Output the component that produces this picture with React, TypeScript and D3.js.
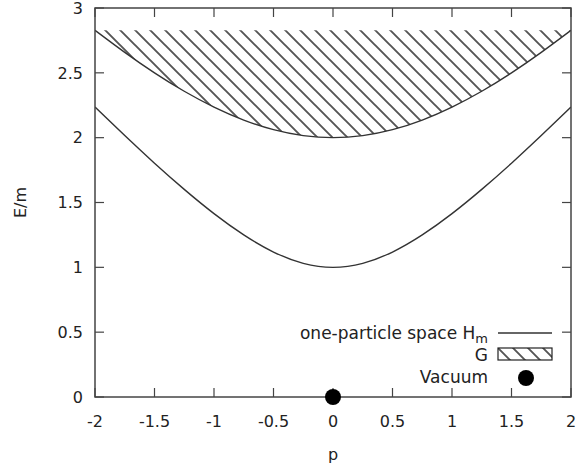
import { useEffect, useRef } from 'react';
import * as d3 from 'd3';

// values
const momentum = [-2, -1.75, -1.5, -1.25, -1, -0.75, -0.5, -0.25, 0, 0.25, 0.5, 0.75, 1, 1.25, 1.5, 1.75, 2];
const oneParticleEnergy = [2.236, 2.016, 1.803, 1.601, 1.414, 1.25, 1.118, 1.031, 1.0, 1.031, 1.118, 1.25, 1.414, 1.601, 1.803, 2.016, 2.236];
const continuumBottom = [2.828, 2.658, 2.5, 2.358, 2.236, 2.136, 2.062, 2.016, 2.0, 2.016, 2.062, 2.136, 2.236, 2.358, 2.5, 2.658, 2.828];
const continuumTop = [2.828, 2.828, 2.828, 2.828, 2.828, 2.828, 2.828, 2.828, 2.828, 2.828, 2.828, 2.828, 2.828, 2.828, 2.828, 2.828, 2.828];
const vacuumP = [0];
const vacuumE = [0];
const xTicks = [-2, -1.5, -1, -0.5, 0, 0.5, 1, 1.5, 2];
const yTicks = [0, 0.5, 1, 1.5, 2, 2.5, 3];

export default function App() {
  const svgRef = useRef<SVGSVGElement>(null);

  useEffect(() => {
    if (!svgRef.current) return;
    const width = 576;
    const height = 470;
    const left = 95, right = 571, top = 8, bottom = 397;
    const font = "'DejaVu Sans', sans-serif";
    const textColor = '#222';

    const svg = d3.select(svgRef.current);
    svg.selectAll('*').remove();
    svg.attr('width', width).attr('height', height);

    const x = d3.scaleLinear().domain([-2, 2]).range([left, right]);
    const y = d3.scaleLinear().domain([0, 3]).range([bottom, top]);

    const defs = svg.append('defs');
    const pat = defs.append('pattern')
      .attr('id', 'hatch')
      .attr('patternUnits', 'userSpaceOnUse')
      .attr('width', 15)
      .attr('height', 15);
    pat.append('path')
      .attr('d', 'M0,0 L15,15 M-2,13 L2,17 M13,-2 L17,2')
      .attr('stroke', '#555')
      .attr('stroke-width', 1.9);

    defs.append('clipPath').attr('id', 'plotClip')
      .append('rect')
      .attr('x', left).attr('y', top)
      .attr('width', right - left).attr('height', bottom - top);

    const rows = momentum.map((p, i) => ({
      p,
      e1: oneParticleEnergy[i],
      lo: continuumBottom[i],
      hi: continuumTop[i],
    }));

    const g = svg.append('g').attr('clip-path', 'url(#plotClip)');

    // two-particle continuum G
    const area = d3.area<any>()
      .x(d => x(d.p))
      .y0(d => y(d.lo))
      .y1(d => y(d.hi))
      .curve(d3.curveNatural);
    g.append('path')
      .attr('d', area(rows))
      .attr('fill', 'url(#hatch)');

    const lowerEdge = d3.line<any>()
      .x(d => x(d.p))
      .y(d => y(d.lo))
      .curve(d3.curveNatural);
    g.append('path')
      .attr('d', lowerEdge(rows))
      .attr('fill', 'none')
      .attr('stroke', '#333')
      .attr('stroke-width', 1.4);

    // one-particle mass shell
    const shell = d3.line<any>()
      .x(d => x(d.p))
      .y(d => y(d.e1))
      .curve(d3.curveNatural);
    g.append('path')
      .attr('d', shell(rows))
      .attr('fill', 'none')
      .attr('stroke', '#333')
      .attr('stroke-width', 1.4);

    // border
    svg.append('rect')
      .attr('x', left).attr('y', top)
      .attr('width', right - left).attr('height', bottom - top)
      .attr('fill', 'none')
      .attr('stroke', '#444')
      .attr('stroke-width', 1.5);

    // ticks (mirrored, inward)
    const tickLen = 9;
    const axes = svg.append('g').attr('stroke', '#444').attr('stroke-width', 1.2);
    xTicks.forEach(t => {
      axes.append('line').attr('x1', x(t)).attr('x2', x(t)).attr('y1', bottom).attr('y2', bottom - tickLen);
      axes.append('line').attr('x1', x(t)).attr('x2', x(t)).attr('y1', top).attr('y2', top + tickLen);
    });
    yTicks.forEach(t => {
      axes.append('line').attr('x1', left).attr('x2', left + tickLen).attr('y1', y(t)).attr('y2', y(t));
      axes.append('line').attr('x1', right).attr('x2', right - tickLen).attr('y1', y(t)).attr('y2', y(t));
    });

    const labels = svg.append('g')
      .attr('font-family', font)
      .attr('font-size', 16)
      .attr('fill', textColor);

    xTicks.forEach(t => {
      labels.append('text')
        .attr('x', x(t))
        .attr('y', 427)
        .attr('text-anchor', 'middle')
        .text(String(t));
    });
    yTicks.forEach(t => {
      labels.append('text')
        .attr('x', 83)
        .attr('y', y(t))
        .attr('dy', '0.36em')
        .attr('text-anchor', 'end')
        .text(String(t));
    });

    labels.append('text')
      .attr('x', (left + right) / 2)
      .attr('y', 460)
      .attr('text-anchor', 'middle')
      .text('p');
    labels.append('text')
      .attr('transform', `translate(26, ${(top + bottom) / 2}) rotate(-90)`)
      .attr('text-anchor', 'middle')
      .text('E/m');

    // vacuum point
    svg.selectAll('circle.vac')
      .data(vacuumP.map((p, i) => ({ p, e: vacuumE[i] })))
      .join('circle')
      .attr('class', 'vac')
      .attr('cx', d => x(d.p))
      .attr('cy', d => y(d.e))
      .attr('r', 8)
      .attr('fill', '#000');

    // legend
    const leg = svg.append('g')
      .attr('font-family', font)
      .attr('font-size', 17)
      .attr('fill', textColor);
    const textRight = 488;
    const sampleX0 = 498, sampleX1 = 552;

    const t1 = leg.append('text')
      .attr('x', textRight)
      .attr('y', 339)
      .attr('text-anchor', 'end');
    t1.append('tspan').text('one-particle space H');
    t1.append('tspan').attr('font-size', 13).attr('dy', 4).text('m');
    leg.append('line')
      .attr('x1', sampleX0).attr('x2', sampleX1)
      .attr('y1', 333).attr('y2', 333)
      .attr('stroke', '#333').attr('stroke-width', 1.4);

    leg.append('text')
      .attr('x', textRight)
      .attr('y', 361)
      .attr('text-anchor', 'end')
      .text('G');
    leg.append('rect')
      .attr('x', sampleX0).attr('y', 348)
      .attr('width', sampleX1 - sampleX0).attr('height', 12)
      .attr('fill', 'url(#hatch)')
      .attr('stroke', '#222')
      .attr('stroke-width', 1.2);

    leg.append('text')
      .attr('x', textRight)
      .attr('y', 383)
      .attr('text-anchor', 'end')
      .text('Vacuum');
    leg.append('circle')
      .attr('cx', 526).attr('cy', 378)
      .attr('r', 8)
      .attr('fill', '#000');
  }, []);

  return (
    <svg ref={svgRef} style={{ position: 'absolute', left: 0, top: 0, background: '#fff' }}></svg>
  );
}
